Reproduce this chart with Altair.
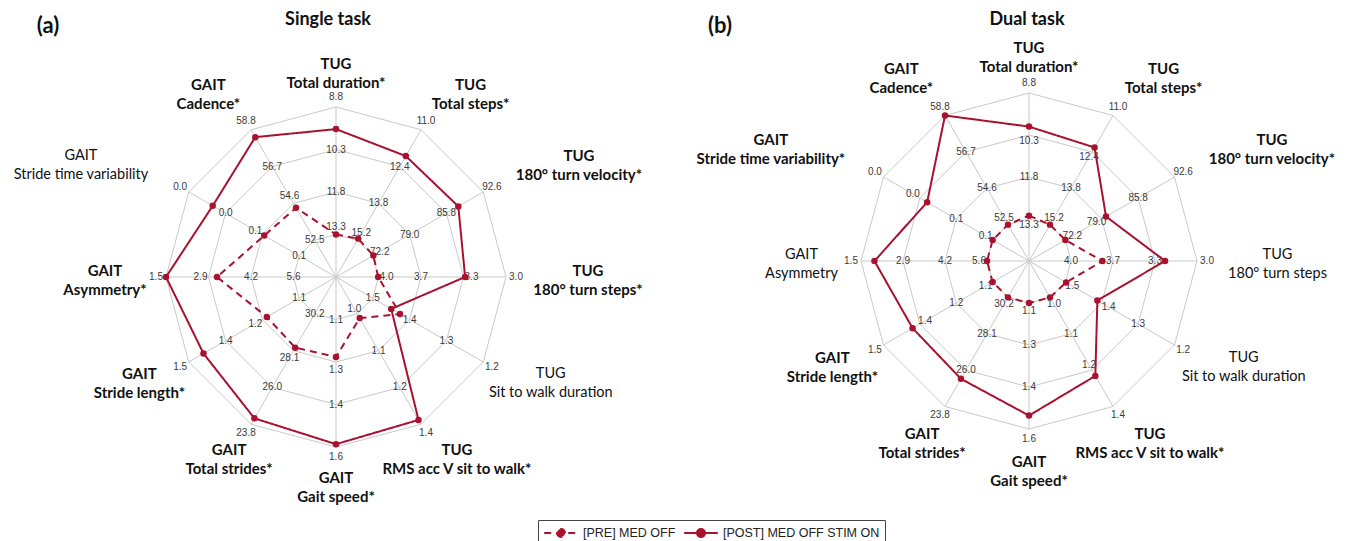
import math
import altair as alt
import pandas as pd

# ----------------------------- data -----------------------------
panel_tags = ["(a)", "(b)"]
panel_titles = ["Single task", "Dual task"]
series_names = ["[PRE] MED OFF", "[POST] MED OFF STIM ON"]

axis_group = ["TUG", "TUG", "TUG", "TUG", "TUG", "TUG",
              "GAIT", "GAIT", "GAIT", "GAIT", "GAIT", "GAIT"]
axis_name_single = ["Total duration*", "Total steps*", "180° turn velocity*",
                    "180° turn steps*", "Sit to walk duration", "RMS acc V sit to walk*",
                    "Gait speed*", "Total strides*", "Stride length*", "Asymmetry*",
                    "Stride time variability", "Cadence*"]
axis_name_dual = ["Total duration*", "Total steps*", "180° turn velocity*",
                  "180° turn steps", "Sit to walk duration", "RMS acc V sit to walk*",
                  "Gait speed*", "Total strides*", "Stride length*", "Asymmetry",
                  "Stride time variability*", "Cadence*"]

# value at the centre of each axis and at its outer ring
axis_center = [14.8, 16.6, 65.4, 4.33, 1.6, 0.88, 0.95, 32.3, 0.94, 7.0, 0.09, 50.4]
axis_outer = [8.8, 11.0, 92.6, 3.0, 1.2, 1.36, 1.55, 23.8, 1.50, 1.5, 0.01, 58.8]

ring_labels = [
    ["13.3", "11.8", "10.3", "8.8"],
    ["15.2", "13.8", "12.4", "11.0"],
    ["72.2", "79.0", "85.8", "92.6"],
    ["4.0", "3.7", "3.3", "3.0"],
    ["1.5", "1.4", "1.3", "1.2"],
    ["1.0", "1.1", "1.2", "1.4"],
    ["1.1", "1.3", "1.4", "1.6"],
    ["30.2", "28.1", "26.0", "23.8"],
    ["1.1", "1.2", "1.4", "1.5"],
    ["5.6", "4.2", "2.9", "1.5"],
    ["0.1", "0.1", "0.0", "0.0"],
    ["52.5", "54.6", "56.7", "58.8"],
]

single_pre = [13.3, 15.14, 72.3, 4.0, 1.426, 1.014, 1.232, 28.22, 1.203, 3.15, 0.051, 54.35]
single_post = [9.58, 12.0, 88.0, 3.32, 1.45, 1.346, 1.54, 24.14, 1.444, 1.5, 0.023, 58.38]
dual_pre = [13.18, 15.2, 72.2, 3.749, 1.498, 1.0, 1.1, 30.175, 1.08, 5.625, 0.07, 52.5]
dual_post = [10.0, 12.23, 79.8, 3.253, 1.412, 1.259, 1.502, 25.415, 1.388, 1.94, 0.034, 58.8]

# ----------------------------- layout -----------------------------
W, H = 1330, 533
panel_cx = [328, 1021]
panel_cy = [269, 253]
panel_R = [170, 168]
tag_x = [40, 712]
title_x = [320, 1019]
LAB_A, LAB_E = 196, 36       # axis-title placement: near-edge gap, upper-side widening
LAB_B, LAB_C = 207, 3        # axis-title placement: vertical radius and shift
LAB_G = 30                   # axis-title placement: extra lift of the upper diagonals
CHAR_W = 7.0                 # rough width of one title character
RED = "#A8122E"
GRID = "#C9C9C9"
N = 12

panels = [
    dict(cx=panel_cx[0], cy=panel_cy[0], R=panel_R[0], names=axis_name_single,
         series=[single_pre, single_post]),
    dict(cx=panel_cx[1], cy=panel_cy[1], R=panel_R[1], names=axis_name_dual,
         series=[dual_pre, dual_post]),
]


def frac(i, v):
    return (v - axis_center[i]) / (axis_outer[i] - axis_center[i])


pts, rings, spokes, ticks, cats, heads = [], [], [], [], [], []
for p, P in enumerate(panels):
    cx, cy, R = P["cx"], P["cy"], P["R"]
    for s, vals in enumerate(P["series"]):
        for k in range(N + 1):
            i = k % N
            pts.append(dict(key=f"{p}-{s}", series=series_names[s], idx=k, value=vals[i],
                            vmin=axis_center[i], vmax=axis_outer[i], cx=cx, cy=cy, R=R))
    for r in range(1, 5):
        for k in range(N + 1):
            a = k * math.pi / 6
            rings.append(dict(key=f"{p}-{r}", idx=k,
                              x=cx + R * r / 4 * math.sin(a), y=cy - R * r / 4 * math.cos(a)))
    for i in range(N):
        a = i * math.pi / 6
        sa, ca = math.sin(a), math.cos(a)
        spokes.append(dict(x=cx, y=cy, x2=cx + R * sa, y2=cy - R * ca))
        dots = [frac(i, P["series"][0][i]), frac(i, P["series"][1][i])]
        for r in range(1, 5):
            fr = r / 4
            if r == 4:
                shift = 10
            else:
                near = [d - fr for d in dots if abs(d - fr) < 0.052]
                shift = 0
                if near:
                    d = min(near, key=abs)
                    shift = -6 if d > 0.02 else 8
            rad = R * fr + shift
            ticks.append(dict(text=ring_labels[i][r - 1], x=cx + rad * sa, y=cy - rad * ca))
        name = P["names"][i]
        w = CHAR_W * max(len(name), len(axis_group[i]))
        cats.append(dict(text=axis_group[i] + "\n" + name, bold=name.endswith("*"),
                         x=cx + (LAB_A + w / 2) * sa + LAB_E * sa * ca,
                         y=cy - LAB_B * ca + LAB_C - LAB_G * sa * sa * max(ca, 0.0)))
    heads.append(dict(text=panel_tags[p], x=tag_x[p], y=18, kind="tag"))
    heads.append(dict(text=panel_titles[p], x=title_x[p], y=12, kind="title"))

pts = pd.DataFrame(pts)
rings = pd.DataFrame(rings)
spokes = pd.DataFrame(spokes)
ticks = pd.DataFrame(ticks)
cats = pd.DataFrame(cats)
heads = pd.DataFrame(heads)

xs = alt.Scale(domain=[0, W], nice=False, zero=False)
ys = alt.Scale(domain=[0, H], nice=False, zero=False, reverse=True)


def X(f):
    return alt.X(f, type="quantitative", scale=xs, axis=None)


def Y(f):
    return alt.Y(f, type="quantitative", scale=ys, axis=None)


ring_layer = alt.Chart(rings).mark_line(color=GRID, strokeWidth=1).encode(
    x=X("x"), y=Y("y"), detail="key:N", order="idx:Q")

spoke_layer = alt.Chart(spokes).mark_rule(color=GRID, strokeWidth=1).encode(
    x=X("x"), y=Y("y"), x2="x2:Q", y2="y2:Q")

tick_layer = alt.Chart(ticks).mark_text(
    font="Liberation Sans", fontSize=10, color="#3a3a3a", align="center", baseline="middle"
).encode(x=X("x"), y=Y("y"), text="text:N")

base = alt.Chart(pts).transform_calculate(
    frac="(datum.value - datum.vmin) / (datum.vmax - datum.vmin)",
    ang="datum.idx * PI / 6",
).transform_calculate(
    px="datum.cx + datum.frac * datum.R * sin(datum.ang)",
    py="datum.cy - datum.frac * datum.R * cos(datum.ang)",
)

# legend symbol: a line with a dot in its middle (unit square = 14 px)
legend_path = "M-2.4,0H2.4M-0.57,0A0.57,0.57,0,1,0,0.57,0A0.57,0.57,0,1,0,-0.57,0Z"

line_layer = base.mark_line(color=RED, strokeWidth=2).encode(
    x=X("px"), y=Y("py"), detail="key:N", order="idx:Q",
    strokeDash=alt.StrokeDash(
        "series:N",
        scale=alt.Scale(domain=series_names, range=[[7, 5], [1, 0]]),
        legend=alt.Legend(
            title=None, orient="none", legendX=530, legendY=512, direction="horizontal",
            symbolType=legend_path, symbolSize=196, symbolStrokeWidth=2,
            symbolStrokeColor=RED, symbolFillColor=RED, symbolOffset=10,
            labelFont="Liberation Sans", labelFontSize=12.5, labelColor="#222222",
            labelOffset=14, columnPadding=4, padding=5, strokeColor="#444444",
        ),
    ),
)

point_layer = base.transform_filter("datum.idx < 12").mark_point(
    filled=True, shape="circle", size=42, color=RED, opacity=1
).encode(x=X("px"), y=Y("py"))

cat_bold = alt.Chart(cats).transform_filter("datum.bold").mark_text(
    font="Lato", fontSize=15, fontWeight="bold", color="#111111", align="center",
    baseline="middle", lineBreak="\n", lineHeight=19, dy=-9.5
).encode(x=X("x"), y=Y("y"), text="text:N")

cat_norm = alt.Chart(cats).transform_filter("!datum.bold").mark_text(
    font="Lato", fontSize=14.5, fontWeight="normal", color="#111111", align="center",
    baseline="middle", lineBreak="\n", lineHeight=19, dy=-9.5
).encode(x=X("x"), y=Y("y"), text="text:N")

tag_layer = alt.Chart(heads).transform_filter("datum.kind == 'tag'").mark_text(
    font="Lato", fontSize=22, fontWeight="bold", color="#111111", align="center",
    baseline="middle"
).encode(x=X("x"), y=Y("y"), text="text:N")

title_layer = alt.Chart(heads).transform_filter("datum.kind == 'title'").mark_text(
    font="Lato", fontSize=18, fontWeight="bold", color="#111111", align="center",
    baseline="middle"
).encode(x=X("x"), y=Y("y"), text="text:N")

chart = alt.layer(
    ring_layer, spoke_layer, tick_layer, line_layer, point_layer,
    cat_bold, cat_norm, tag_layer, title_layer
).properties(
    width=W, height=H, padding=0, autosize=alt.AutoSizeParams(type="none")
).configure_view(strokeWidth=0)

chart.save("out.html", embed_options={"renderer": "svg", "actions": False})
